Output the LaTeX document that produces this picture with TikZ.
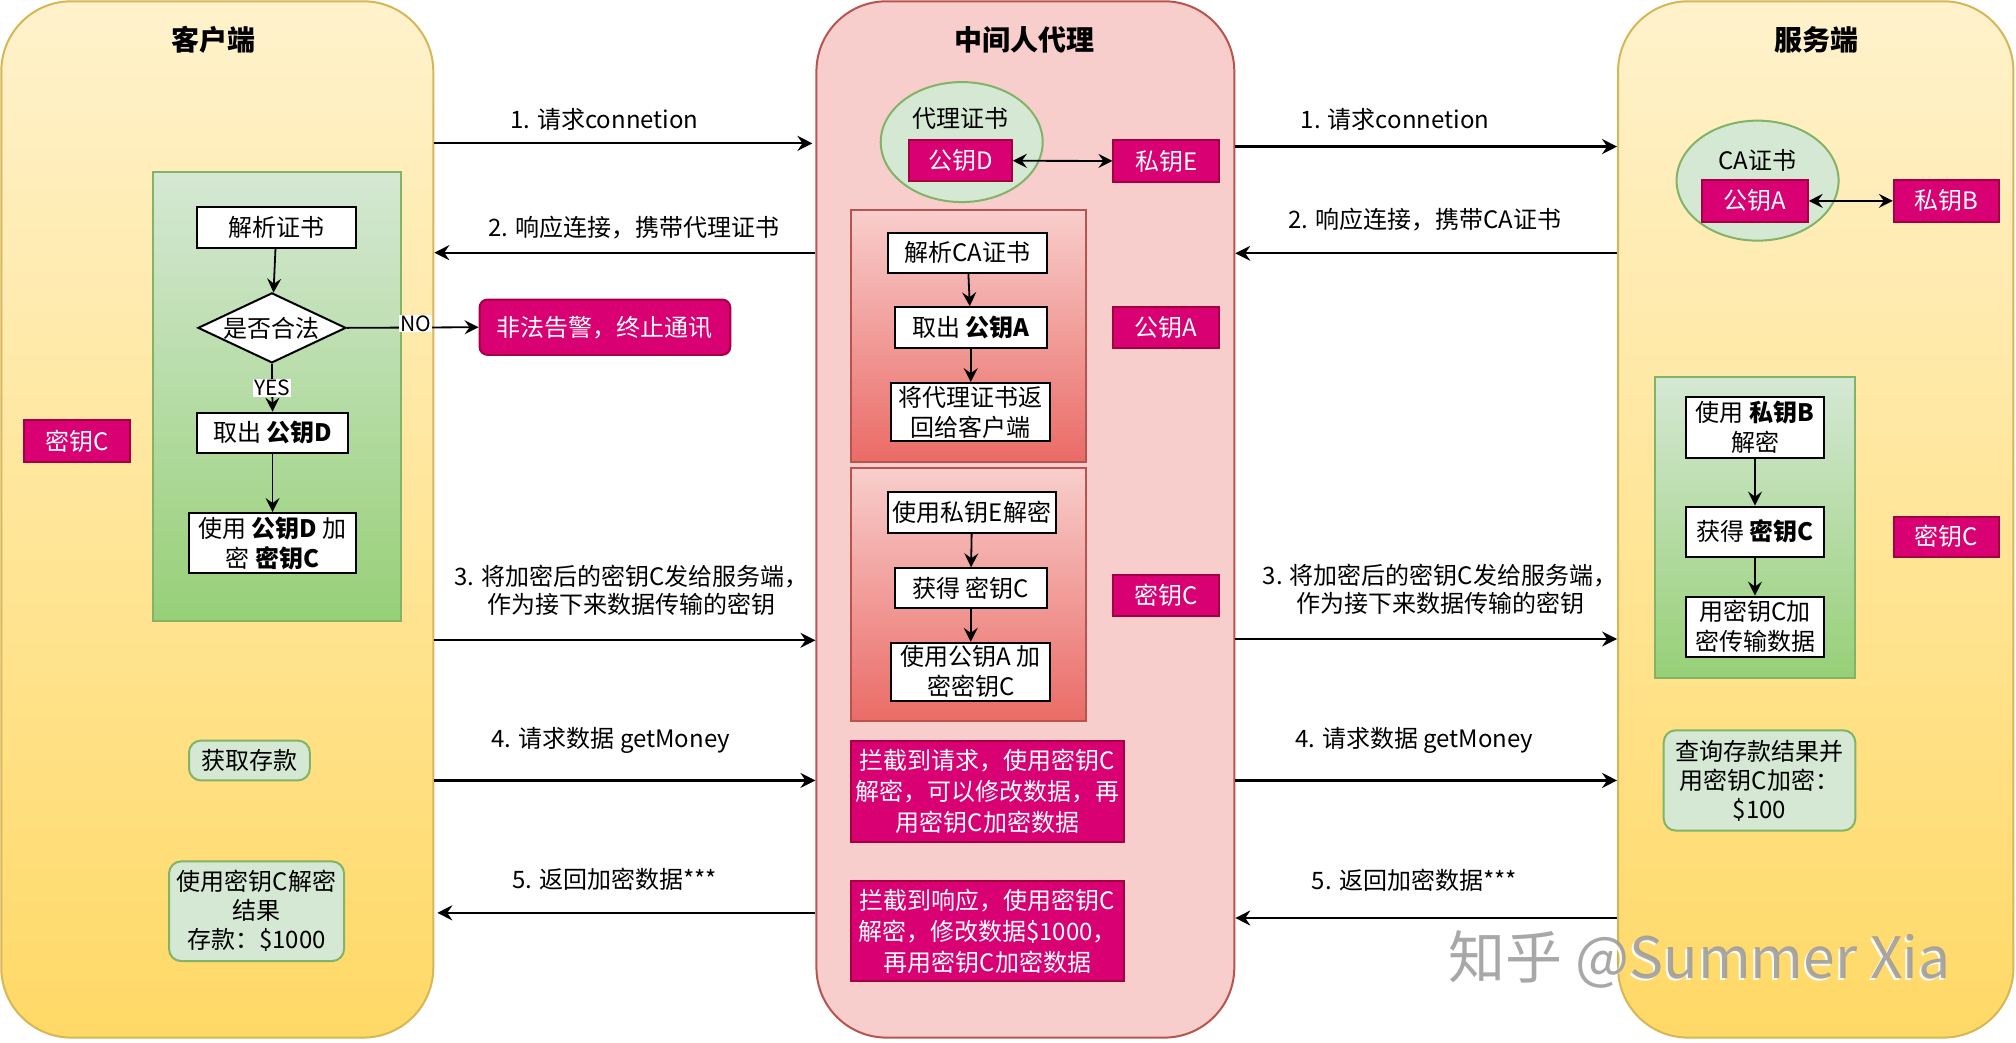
\documentclass[tikz,border=0pt]{standalone}
\usepackage{fontspec}
\setmainfont{Noto Sans CJK SC}
\usetikzlibrary{shapes.geometric,arrows.meta,fit}
\definecolor{ylwT}{HTML}{FFF2CC}
\definecolor{ylwB}{HTML}{FFD966}
\definecolor{ylwD}{HTML}{D6B656}
\definecolor{redL}{HTML}{F8CECC}
\definecolor{redB}{HTML}{EA6B66}
\definecolor{redD}{HTML}{B85450}
\definecolor{grL}{HTML}{D5E8D4}
\definecolor{grB}{HTML}{97D077}
\definecolor{grD}{HTML}{82B366}
\definecolor{magF}{HTML}{D80073}
\definecolor{magD}{HTML}{A50040}
% #1 shape style, #2 name, #3 text style, #4 text
\newcommand\mybox[4]{\node[#1] (#2) {};\node[align=center, fnt, #3] (#2t) at (#2.center) {#4};}
\begin{document}
\begin{tikzpicture}[x=1.2857pt,y=-1.2857pt,
  fnt/.style={font=\fontsize{24}{30}\selectfont},
  lblfnt/.style={font=\fontsize{24}{28.5}\selectfont},
  cont/.style={inner sep=0pt, rounded corners=70pt, line width=2pt},
  ttl/.style={font=\fontsize{28}{32}\selectfont\bfseries},
  panel/.style={inner sep=0pt, line width=2pt, fit={#1}},
  box/.style={draw=black, line width=2pt, fill=white, inner sep=0pt, fit={#1}},
  mag/.style={draw=magD, line width=2pt, fill=magF, inner sep=0pt, fit={#1}},
  magr/.style={mag={#1}, rounded corners=8pt},
  lg/.style={draw=grD, line width=2pt, fill=grL, rounded corners=12pt, inner sep=0pt, fit={#1}},
  wt/.style={text=white},
  cert/.style={ellipse, draw=grD, fill=grL, line width=2pt, minimum width=162pt, minimum height=120pt, inner sep=0pt},
  arr/.style={-{Stealth[length=15pt,width=15pt,inset=5pt]}, line width=2.2pt},
  farr/.style={-{Stealth[length=14pt,width=14pt,inset=5pt]}, line width=1.8pt},
  darr/.style={{Stealth[length=14pt,width=14pt,inset=5pt]}-{Stealth[length=14pt,width=14pt,inset=5pt]}, line width=1.8pt},
  yn/.style={fill=white, inner sep=1pt, font=\fontsize{21}{24}\selectfont},
  albl/.style={lblfnt, align=center}
]
\useasboundingbox (0,0) rectangle (1568,810.5);

% containers
\node[cont, fit={(1,1)(337,807)}, top color=ylwT, bottom color=ylwB, draw=ylwD] (cl) {};
\node[cont, fit={(635,1)(960,807)}, fill=redL, draw=redD] (cm) {};
\node[cont, fit={(1258.5,1)(1566,807)}, top color=ylwT, bottom color=ylwB, draw=ylwD] (cr) {};

\node[ttl] (tl) at (166,31) {客户端};
\node[ttl] (tm) at (797,31) {中间人代理};
\node[ttl] (tr) at (1413,31) {服务端};

% ---------- client ----------
\node[panel={(119,134)(312,483)}, top color=grL, bottom color=grB, draw=grD] (gl) {};
\mybox{box={(153,161)(277,193)}}{pa}{}{解析证书}
\node[diamond, draw=black, fill=white, line width=2pt, inner sep=0pt, minimum width=148pt, minimum height=70pt] (dia) at (211.5,255) {};
\node[fnt] (diat) at (dia) {是否合法};
\mybox{box={(153,321)(271,352.5)}}{qd}{}{取出 \textbf{公钥D}}
\mybox{box={(147,399)(277,446)}}{ud}{}{使用 \textbf{公钥D} 加\\密 \textbf{密钥C}}
\mybox{magr={(373,233)(568,276)}}{alarm}{wt}{非法告警，终止通讯}
\draw[farr] (pa) -- (dia);
\draw[farr] (dia.south) -- node[yn]{YES} (qd.north);
\draw[farr] (qd) -- (ud);
\draw[farr] (dia.east) -- node[yn, pos=0.52, yshift=4pt]{NO} (alarm.west);

\mybox{mag={(19,327)(101,359)}}{kc1}{wt}{密钥C}
\mybox{lg={(147,576)(241,607)}}{get}{}{获取存款}
\mybox{lg={(131.5,670)(267.6,747.5)}}{dec}{font=\fontsize{24}{29}\selectfont}{使用密钥C解密\\结果\\存款：\$1000}

% ---------- proxy ----------
\node[cert] (ce1) at (748,110.5) {};
\node[fnt] (ce1t) at (747,92) {代理证书};
\mybox{mag={(707,109)(787,141)}}{pkD}{wt}{公钥D}
\mybox{mag={(866,109)(948,141.5)}}{skE}{wt}{私钥E}
\draw[darr] (pkD) -- (skE);

\node[panel={(662,163)(845,359)}, top color=redL, bottom color=redB, draw=redD] (rp1) {};
\mybox{box={(691,181)(814,212)}}{pca}{}{解析CA证书}
\mybox{box={(696,239)(814,271)}}{qa}{}{取出 \textbf{公钥A}}
\mybox{box={(693,298)(817,343)}}{ret}{}{将代理证书返\\回给客户端}
\draw[farr] (pca) -- (qa);
\draw[farr] (qa) -- (ret);
\mybox{mag={(866,239)(948,271)}}{pkA1}{wt}{公钥A}

\node[panel={(662,364)(845,561)}, top color=redL, bottom color=redB, draw=redD] (rp2) {};
\mybox{box={(691,383)(821,414.6)}}{dE}{}{使用私钥E解密}
\mybox{box={(696,442)(814,473)}}{gC}{}{获得 密钥C}
\mybox{box={(693,500)(817,545)}}{eA}{}{使用公钥A 加\\密密钥C}
\draw[farr] (dE) -- (gC);
\draw[farr] (gC) -- (eA);
\mybox{mag={(866,447)(948,479)}}{kc2}{wt}{密钥C}

\mybox{mag={(662,576)(874,655)}}{int1}{wt, font=\fontsize{24}{31}\selectfont}{拦截到请求，使用密钥C\\解密，可以修改数据，再\\用密钥C加密数据}
\mybox{mag={(662,685)(874,763)}}{int2}{wt, font=\fontsize{24}{31}\selectfont}{拦截到响应，使用密钥C\\解密，修改数据\$1000，\\再用密钥C加密数据}

% ---------- server ----------
\node[cert] (ce2) at (1367,140.5) {};
\node[fnt] (ce2t) at (1367,124.5) {CA证书};
\mybox{mag={(1324,140)(1406,172.5)}}{pkA2}{wt}{公钥A}
\mybox{mag={(1473,140)(1555,172.5)}}{skB}{wt}{私钥B}
\draw[darr] (pkA2) -- (skB);

\node[panel={(1287,293)(1443,527)}, top color=grL, bottom color=grB, draw=grD] (gr) {};
\mybox{box={(1311,309)(1419,356)}}{dB}{}{使用 \textbf{私钥B}\\解密}
\mybox{box={(1311,394)(1419,433)}}{gCs}{}{获得 \textbf{密钥C}}
\mybox{box={(1311,464)(1419,511)}}{eC}{}{用密钥C加\\密传输数据}
\draw[farr] (dB) -- (gCs);
\draw[farr] (gCs) -- (eC);
\mybox{mag={(1473,402)(1555,433)}}{kc3}{wt}{密钥C}
\mybox{lg={(1294,568)(1443,646)}}{qry}{font=\fontsize{24}{29}\selectfont}{查询存款结果并\\用密钥C加密：\\\$100}

% ---------- main arrows left ----------
\draw[arr, shorten >=3pt] (cl.east |- 0,111.5) -- (cm.west |- 0,111.5);
\draw[arr] (cm.west |- 0,196.5) -- (cl.east |- 0,196.5);
\draw[arr] (cl.east |- 0,498) -- (cm.west |- 0,498);
\draw[arr] (cl.east |- 0,607) -- (cm.west |- 0,607);
\draw[arr, shorten >=3pt] (cm.west |- 0,710) -- (cl.east |- 0,710);
\node[albl] (l1) at (470,93) {1. 请求connetion};
\node[albl] (l2) at (493,177) {2. 响应连接，携带代理证书};
\node[albl] (l3) at (491,459) {3. 将加密后的密钥C发给服务端，\\作为接下来数据传输的密钥};
\node[albl] (l4) at (475,575.5) {4. 请求数据 getMoney};
\node[albl] (l5) at (478,684) {5. 返回加密数据***};

% ---------- main arrows right ----------
\draw[arr] (cm.east |- 0,114) -- (cr.west |- 0,114);
\draw[arr] (cr.west |- 0,197) -- (cm.east |- 0,197);
\draw[arr] (cm.east |- 0,497) -- (cr.west |- 0,497);
\draw[arr] (cm.east |- 0,607) -- (cr.west |- 0,607);
\draw[arr] (cr.west |- 0,714) -- (cm.east |- 0,714);
\node[albl] (r1) at (1085,93) {1. 请求connetion};
\node[albl] (r2) at (1108,171) {2. 响应连接，携带CA证书};
\node[albl] (r3) at (1120,458.5) {3. 将加密后的密钥C发给服务端，\\作为接下来数据传输的密钥};
\node[albl] (r4) at (1100,576) {4. 请求数据 getMoney};
\node[albl] (r5) at (1100,685) {5. 返回加密数据***};

% watermark
\node[font=\fontsize{57}{62}\selectfont, text=white, opacity=0.9] (wm0) at ([xshift=-2pt,yshift=-2pt]1322,746) {知乎 @Summer Xia};
\node[font=\fontsize{57}{62}\selectfont, text=black!40, opacity=0.85] (wm) at (1322,746) {知乎 @Summer Xia};
\end{tikzpicture}
\end{document}
